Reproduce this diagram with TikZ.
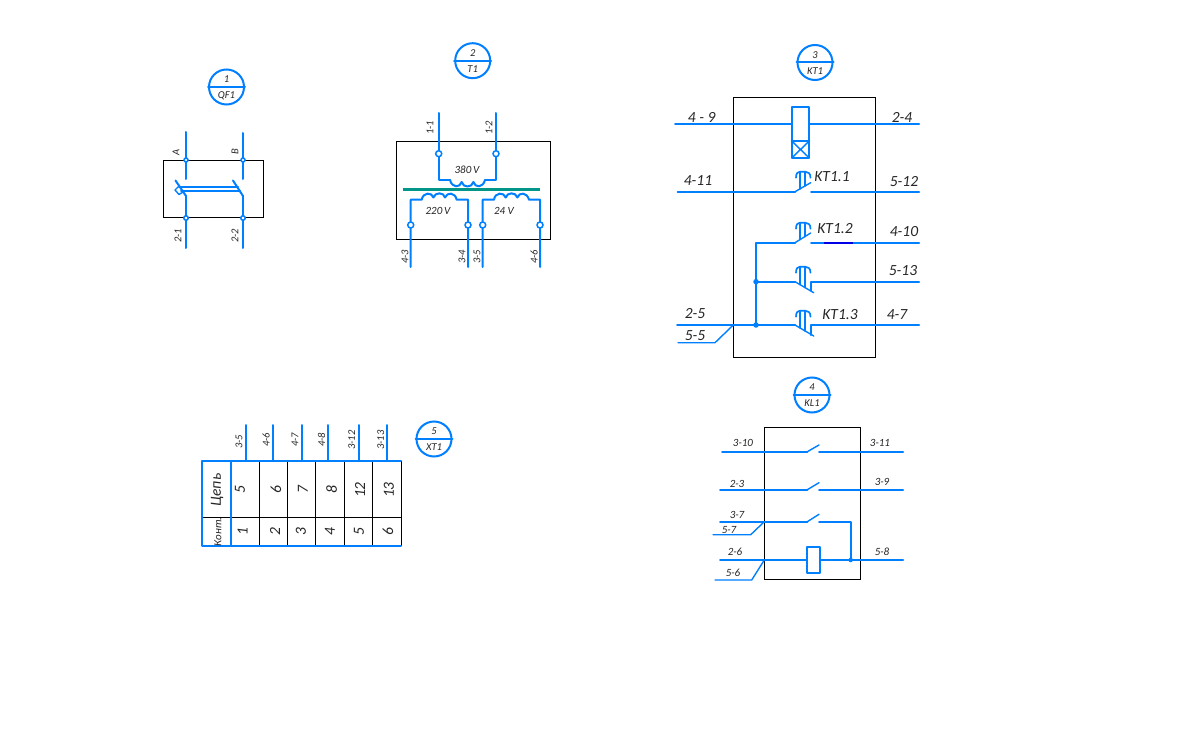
\documentclass[tikz,border=0pt]{standalone}
\usepackage{fontspec}
\setmainfont{Carlito}
\definecolor{wire}{RGB}{0,127,255}
\definecolor{bar}{RGB}{0,150,136}
\definecolor{darkb}{RGB}{0,0,230}
\tikzset{
  x=1pt,y=-1pt,
  wirel/.style={draw=wire,line width=2pt,line cap=round,line join=round},
  thinw/.style={draw=wire,line width=1.4pt,line cap=round,line join=round},
  frameb/.style={draw=black,line width=0.9pt},
  term/.style={circle,draw=wire,fill=white,line width=1.5pt,inner sep=0pt,minimum size=6pt},
  dotw/.style={circle,fill=wire,inner sep=0pt,minimum size=5.5pt},
  lbase/.style={inner sep=0pt,text=black!85},
  big/.style={lbase,font=\fontsize{15.5}{16}\selectfont\itshape},
  med/.style={lbase,font=\fontsize{11}{12}\selectfont\itshape},
  sm/.style={lbase,font=\fontsize{10.5}{11}\selectfont\itshape},
  rot/.style={rotate=90}
}
\newcommand{\tagcircle}[5]{% name, x, y, top, bottom
  \node[circle,draw=wire,line width=2pt,minimum size=35pt,inner sep=0pt] (#1) at (#2,#3) {};
  \draw[wirel] (#1.west) -- (#1.east);
  \node[sm] at (#2,#3-7.5) {#4};
  \node[sm] at (#2,#3+8.5) {#5};
}
\newcommand{\contactmark}[3]{% ytop, ybottom left, ybottom right
  \draw[wirel,line width=1.7pt] (800,#2) -- (800,#1) (805,#3) -- (805,#1);
  \draw[wirel,line width=1.7pt] (796,#1+6) .. controls (796,#1+1.5) and (798,#1) .. (800,#1) -- (805,#1) .. controls (808,#1) and (810.5,#1+1.5) .. (810.5,#1+6);
}
\begin{document}
\begin{tikzpicture}
\useasboundingbox[fill=white] (0,0) rectangle (1191,746);

% ---------- 1 QF1
\tagcircle{c1}{226.5}{87}{1}{QF1}
\draw[frameb] (163.5,160) rectangle (263,217.5);
\draw[wirel] (186,132) -- (186,179);
\draw[wirel] (243,133) -- (243,179);
\draw[wirel] (186,196) -- (186,248);
\draw[wirel] (243,196) -- (243,248);
\draw[wirel] (175.5,180.5) -- (186,196);
\draw[wirel] (233,180.5) -- (243,196);
\draw[wirel] (179,187) -- (238,187) (181,191) -- (240,191);
\draw[thinw] (179,186) -- (175,190) -- (179,194.5) -- (183,192);
\node[term,minimum size=4pt] at (186,160) {};
\node[term,minimum size=4pt] at (243,160) {};
\node[term,minimum size=4.5pt] at (186,218) {};
\node[term,minimum size=4.5pt] at (243,218) {};
\node[sm,rot] at (176,152) {A};
\node[sm,rot] at (235,152) {B};
\node[sm,rot] at (178,236) {2-1};
\node[sm,rot] at (235,236) {2-2};

% ---------- 2 T1
\tagcircle{c2}{472.7}{60.7}{2}{T1}
\draw[frameb] (396.7,141.7) rectangle (550.7,239);
\draw[wirel] (438.7,113) -- (438.7,180) -- (450,180);
\draw[wirel] (496,113) -- (496,180) -- (485,180);
\draw[wirel] (450,180) .. controls (452,188) and (460,188) .. (461.7,182)
  .. controls (463,188) and (472,188) .. (473.4,182)
  .. controls (475,188) and (483,188) .. (485,180);
\draw[draw=bar,line width=3pt] (402.7,190) -- (540,190);
\draw[wirel] (410.7,267) -- (410.7,199.7) -- (421.7,199.7)
  .. controls (423,192) and (432,192) .. (433.4,197.5)
  .. controls (435,192) and (444,192) .. (445,197.5)
  .. controls (447,192) and (455,192) .. (456.7,199.7) -- (468,199.7) -- (468,267);
\draw[wirel] (482.7,267) -- (482.7,199.7) -- (494,199.7)
  .. controls (495,192) and (504,192) .. (505.7,197.5)
  .. controls (507,192) and (516,192) .. (517.4,197.5)
  .. controls (519,192) and (527,192) .. (529,199.7) -- (540,199.7) -- (540,267);
\foreach \px/\py in {438.7/153.7,496/153.7,410.7/225,468/225,482.7/225,540/225}
  \node[term] at (\px,\py) {};
\node[sm,rot] at (430,128) {1-1};
\node[sm,rot] at (489,128) {1-2};
\node[med] at (467,170) {380\,V};
\node[med] at (438,211) {220\,V};
\node[med] at (504,211) {24 V};
\node[sm,rot] at (405,257) {4-3};
\node[sm,rot] at (462,257) {3-4};
\node[sm,rot] at (477,257) {3-5};
\node[sm,rot] at (534,257) {4-6};

% ---------- 3 KT1
\tagcircle{c3}{815}{62.5}{3}{KT1}
\draw[frameb] (733.3,97.3) rectangle (875.3,357.3);
\draw[wirel] (675,123.7) -- (791.7,123.7);
\draw[wirel] (809.3,123.7) -- (919,123.7);
\draw[wirel] (791.7,106.7) rectangle (809.3,158);
\draw[wirel] (791.7,141) -- (809.3,141);
\draw[thinw] (791.7,141) -- (809.3,158) (809.3,141) -- (791.7,158);
% KT1.1
\draw[wirel] (677.7,191.7) -- (795,191.7);
\draw[thinw] (795,191.7) -- (810.7,182.7);
\draw[wirel] (811,191.7) -- (919,191.7);
\contactmark{171.7}{189}{186}
% KT1.2
\draw[wirel] (795,242.7) -- (756,242.7) -- (756,325);
\draw[thinw] (795,242.7) -- (810.7,233);
\draw[wirel] (811,242.7) -- (919,242.7);
\draw[draw=darkb,line width=2pt] (824,242.7) -- (852.7,242.7);
\contactmark{222.7}{239.5}{236.5}
% 5-13
\draw[wirel] (756,281.7) -- (795,281.7);
\draw[thinw] (795,281.7) -- (813.7,292.7);
\draw[wirel] (810.7,290.7) -- (810.7,281.7) -- (919,281.7);
\contactmark{266.7}{284.6}{287.5}
% KT1.3
\draw[wirel] (677,325) -- (795,325);
\draw[thinw] (795,325) -- (813.7,336);
\draw[wirel] (810.7,335) -- (810.7,325) -- (919,325);
\contactmark{310.7}{328}{331}
\draw[thinw] (678,342.7) -- (715,342.7) -- (733.3,325);
\node[dotw] at (756,281.7) {};
\node[dotw] at (756,325) {};
\node[big] at (701.7,117) {4 - 9};
\node[big] at (902,117) {2-4};
\node[big] at (698,180.7) {4-11};
\node[big] at (832,176.7) {KT1.1};
\node[big] at (904,182) {5-12};
\node[big] at (835,229) {KT1.2};
\node[big] at (904,232) {4-10};
\node[big] at (903,271) {5-13};
\node[big] at (695,314) {2-5};
\node[big] at (695,336) {5-5};
\node[big] at (840,315) {KT1.3};
\node[big] at (897,315) {4-7};

% ---------- 4 KL1
\tagcircle{c4}{812}{395}{4}{KL1}
\draw[frameb] (764.3,427.3) rectangle (860.3,579.3);
\draw[wirel] (722,451.7) -- (807.3,451.7);
\draw[thinw] (807.3,451.7) -- (819,445);
\draw[wirel] (819,451.7) -- (903,451.7);
\draw[wirel] (720,489.7) -- (807.3,489.7);
\draw[thinw] (807.3,489.7) -- (819,482.7);
\draw[wirel] (819,489.7) -- (903,489.7);
\draw[wirel] (720,521.7) -- (807.3,521.7);
\draw[thinw] (807.3,521.7) -- (819,514.3);
\draw[wirel] (819,521.7) -- (850.7,521.7) -- (850.7,560);
\draw[wirel] (720,560) -- (806.7,560);
\draw[wirel] (820,560) -- (903,560);
\draw[wirel] (806.7,546.7) rectangle (820,572.7);
\draw[thinw] (713,534.7) -- (750.7,534.7) -- (764.3,521.7);
\draw[thinw] (715,580) -- (751.7,580) -- (764.3,560);
\node[dotw,minimum size=4.5pt] at (850.7,560) {};
\node[med] at (743,443) {3-10};
\node[med] at (880,443) {3-11};
\node[med] at (737,484) {2-3};
\node[med] at (882,482) {3-9};
\node[med] at (737,515) {3-7};
\node[med] at (729,530) {5-7};
\node[med] at (735,552) {2-6};
\node[med] at (882,552) {5-8};
\node[med] at (733,573) {5-6};

% ---------- 5 XT1
\tagcircle{c5}{434}{439}{5}{XT1}
\foreach \px in {245.7,272.7,302,328,359,387}
  \draw[wirel] (\px,425) -- (\px,461);
\foreach \px in {259.3,287.3,315.7,344.3,372.7}
  \draw[frameb] (\px,461) -- (\px,545.7);
\draw[frameb] (202.3,517.3) -- (401,517.3);
\draw[frameb] (401,461) -- (401,545.7);
\draw[wirel] (202.3,545.7) -- (202.3,461) -- (401,461);
\draw[wirel] (202.3,545.7) -- (401,545.7);
\draw[wirel] (230.7,461) -- (230.7,545.7);
\node[sm,rot] at (239,441.7) {3-5};
\node[sm,rot] at (266,440) {4-6};
\node[sm,rot] at (295,440) {4-7};
\node[sm,rot] at (321.7,440) {4-8};
\node[sm,rot] at (351.7,440) {3-12};
\node[sm,rot] at (380.7,440) {3-13};
\node[big,rot] at (217,490) {Цепь};
\node[med,rot] at (218,531.7) {Конт.};
\foreach \px/\t in {240/5,276/6,303/7,331.7/8,360/12,389/13}
  \node[big,rot] at (\px,490) {\t};
\foreach \px/\t in {242.7/1,275/2,301/3,330/4,359/5,388/6}
  \node[big,rot] at (\px,532) {\t};
\end{tikzpicture}
\end{document}
